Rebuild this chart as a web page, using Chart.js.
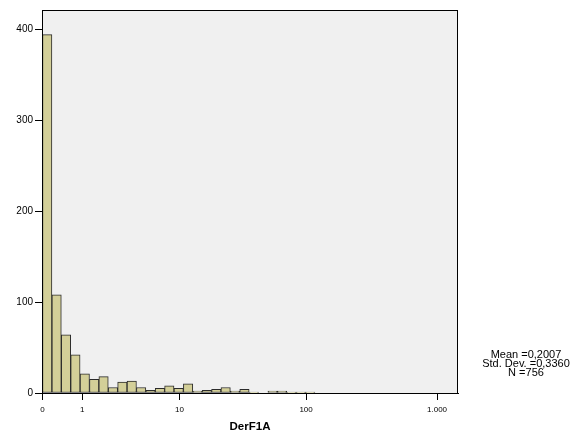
<!DOCTYPE html>
<html>
<head>
<meta charset="utf-8">
<script src="https://cdn.jsdelivr.net/npm/chart.js@4"></script>
<style>
	body { margin: 0; background: #fff; }
	canvas { display: block; }
</style>
</head>
<body>
<canvas id="chart" width="579" height="442"></canvas>
<script>
// counts per bin, bins are 1/14 wide on a log10(x + 1) axis
const binWidth = 1 / 14
const binCounts = [394, 108, 64, 42, 21, 15, 18, 6, 12, 13, 6, 3, 5, 8, 5, 10, 2, 3, 4, 6, 2, 4, 1, 0, 2, 2, 1, 1, 1]
const tickValues = [0, 1, 10, 100, 1000]
const tickLabels = ['0', '1', '10', '100', '1.000']
const axisTitle = 'DerF1A'
const statsLines = ['Mean =0,2007', 'Std. Dev. =0,3360', 'N =756']

const toAxis = v => Math.log10(v + 1)

const barData = binCounts.map((count, i) => ({ x: (i + 0.5) * binWidth, y: count }))

const panelPlugin = {
	id: 'panel',
	beforeDatasetsDraw: (chart) => {
		const { ctx, chartArea: a } = chart
		ctx.save()
		ctx.fillStyle = '#f0f0f0'
		ctx.fillRect(a.left, a.top, a.right - a.left, a.bottom - a.top)
		ctx.restore()
	},
	afterDraw: (chart) => {
		const { ctx, chartArea: a } = chart
		ctx.save()
		ctx.strokeStyle = '#000'
		ctx.lineWidth = 1
		ctx.strokeRect(Math.round(a.left) + 0.5, Math.round(a.top) + 0.5, Math.round(a.right - a.left) - 1, Math.round(a.bottom - a.top))
		ctx.fillStyle = '#000'
		ctx.font = '11px "Liberation Sans", Arial, sans-serif'
		ctx.textAlign = 'center'
		ctx.textBaseline = 'middle'
		statsLines.forEach((line, i) => ctx.fillText(line, 526, 355 + i * 9))
		ctx.restore()
	}
}

new Chart(document.getElementById('chart'), {
	type: 'bar',
	data: {
		datasets: [
			{
				data: barData,
				backgroundColor: '#d3cf98',
				borderColor: '#2b2b2b',
				borderWidth: 1,
				borderSkipped: false,
				barPercentage: 1,
				categoryPercentage: 1,
			},
		]
	},
	options: {
		responsive: false,
		animation: false,
		layout: { padding: { top: 10, right: 121, left: 0, bottom: 0 } },
		plugins: {
			legend: { display: false },
			tooltip: { enabled: false },
		},
		scales: {
			x: {
				type: 'linear',
				offset: false,
				min: -0.004,
				max: 3.16,
				afterFit: (scale) => { scale.height = 49 },
				afterBuildTicks: (scale) => {
					scale.ticks = tickValues.map(v => ({ value: toAxis(v) }))
				},
				grid: {
					drawOnChartArea: false,
					drawTicks: true,
					tickLength: 7,
					color: '#000',
					offset: false,
				},
				border: { display: true, color: '#000' },
				ticks: {
					autoSkip: false,
					maxRotation: 0,
					padding: 5,
					color: '#000',
					font: { family: '"Liberation Sans", Arial, sans-serif', size: 8 },
					callback: (value, index) => tickLabels[index],
				},
				title: {
					display: true,
					text: axisTitle,
					color: '#000',
					font: { family: '"Liberation Sans", Arial, sans-serif', size: 11.5, weight: 'bold' },
					padding: { top: 0, bottom: 8 },
				},
			},
			y: {
				min: 0,
				max: 421,
				afterFit: (scale) => { scale.width = 42 },
				afterBuildTicks: (scale) => {
					scale.ticks = [0, 100, 200, 300, 400].map(v => ({ value: v }))
				},
				grid: {
					drawOnChartArea: false,
					drawTicks: true,
					tickLength: 7,
					color: '#000',
				},
				border: { display: true, color: '#000' },
				ticks: {
					padding: 2,
					color: '#000',
					font: { family: '"Liberation Sans", Arial, sans-serif', size: 10 },
				},
			}
		}
	},
	plugins: [panelPlugin]
});
</script>
</body>
</html>
